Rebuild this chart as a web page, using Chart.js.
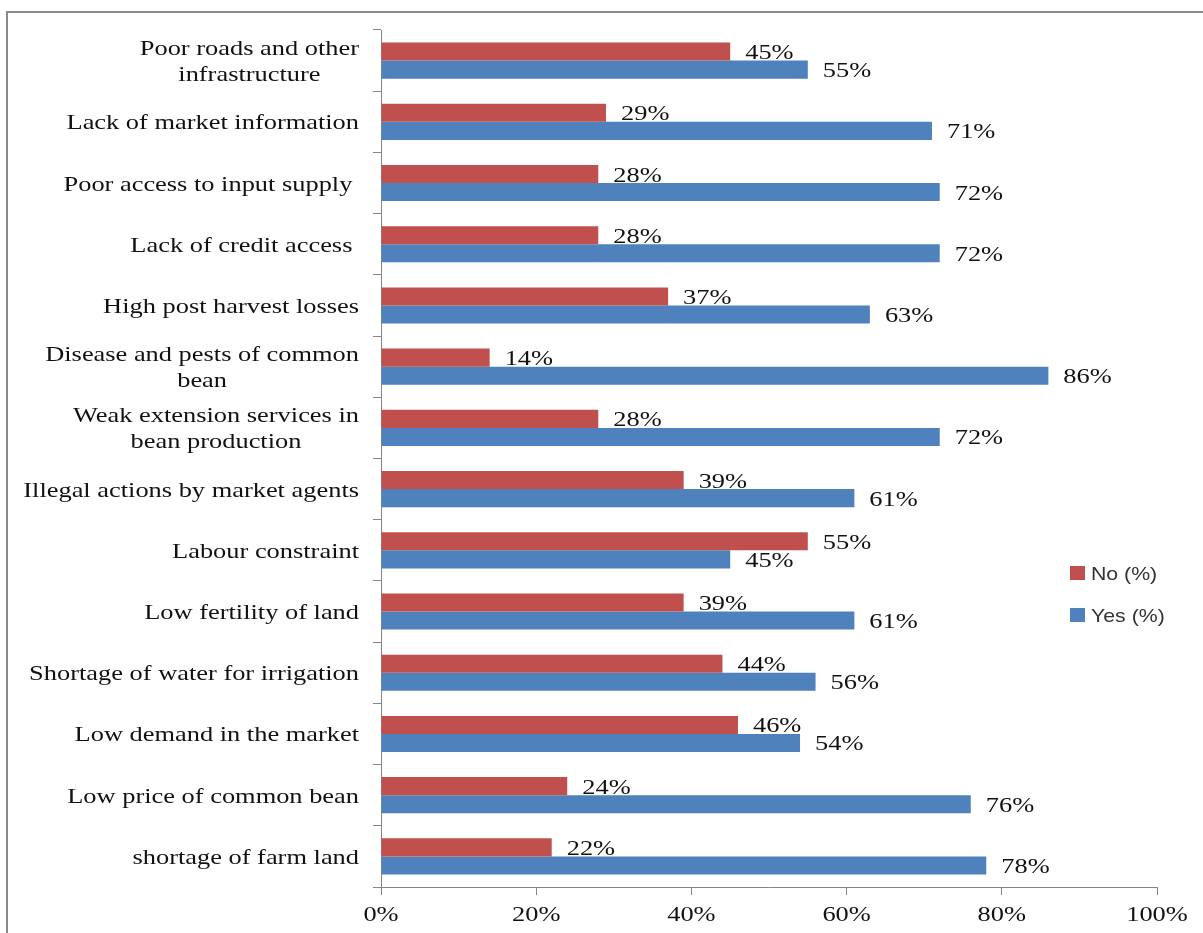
<!DOCTYPE html>
<html>
<head>
<meta charset="utf-8">
<title>Constraints of common bean marketing</title>
<script src="https://cdn.jsdelivr.net/npm/chart.js@4.4.1/dist/chart.umd.min.js"></script>
<style>
  html, body { margin: 0; padding: 0; background: #fff; }
  #wrap { position: relative; width: 1203px; height: 933px; overflow: hidden; }
  #wrap canvas { position: absolute; left: 0; top: 0; }
  #frame {
    position: absolute; left: 6px; top: 11px; right: -10px; bottom: -10px;
    border-left: 2px solid #8a8a8a; border-top: 2px solid #8a8a8a;
    pointer-events: none;
  }
</style>
</head>
<body>
<div id="wrap">
  <canvas id="chart" width="1203" height="933"></canvas>
  <div id="frame"></div>
</div>
<script>
// Constraints, listed top to bottom
const categories = [
  ['Poor roads and other', 'infrastructure'],
  'Lack of market information',
  'Poor access to input supply ',
  'Lack of credit access ',
  'High post harvest losses',
  ['Disease and pests of common', 'bean'],
  ['Weak extension services in', 'bean production'],
  'Illegal actions by market agents',
  'Labour constraint',
  'Low fertility of land',
  'Shortage of water for irrigation',
  'Low demand in the market',
  'Low price of common bean',
  'shortage of farm land'
];

// Share of respondents (%)
const noValues  = [45, 29, 28, 28, 37, 14, 28, 39, 55, 39, 44, 46, 24, 22];
const yesValues = [55, 71, 72, 72, 63, 86, 72, 61, 45, 61, 56, 54, 76, 78];

// Percentage axis ticks
const xTickValues = [0, 20, 40, 60, 80, 100];

const seriesNames = ['No (%)', 'Yes (%)'];
const RED = '#C0504D';
const BLUE = '#4F81BD';
const AXIS = '#868686';
const SERIF = "'Liberation Serif', 'Times New Roman', serif";
const SANS = "'Liberation Sans', Arial, sans-serif";
const STRETCH = 1.2;   // wide Times-style lettering

function drawStretched(ctx, text, x, y, align, sx) {
  ctx.save();
  ctx.translate(x, y);
  ctx.scale(sx, 1);
  ctx.textAlign = align;
  ctx.fillText(text, 0, 0);
  ctx.restore();
}

// Value labels to the right of every bar
const valueLabels = {
  id: 'valueLabels',
  afterDatasetsDraw(chart) {
    const ctx = chart.ctx;
    ctx.save();
    ctx.font = '22px ' + SERIF;
    ctx.fillStyle = '#111';
    ctx.textBaseline = 'alphabetic';
    chart.data.datasets.forEach((ds, di) => {
      const meta = chart.getDatasetMeta(di);
      meta.data.forEach((bar, i) => {
        drawStretched(ctx, ds.data[i] + '%', bar.x + 15, bar.y + 7.5, 'left', STRETCH);
      });
    });
    ctx.restore();
  }
};

// Category names (block right-aligned, wrapped lines centred) and % ticks
const axisText = {
  id: 'axisText',
  afterDraw(chart) {
    const ctx = chart.ctx;
    const ys = chart.scales.y;
    const xs = chart.scales.x;
    ctx.save();
    ctx.font = '22px ' + SERIF;
    ctx.fillStyle = '#111';
    ctx.textBaseline = 'alphabetic';

    const right = ys.right - 22;
    const lineH = 26;
    chart.data.labels.forEach((lab, i) => {
      const lines = Array.isArray(lab) ? lab : [lab];
      const widths = lines.map(l => ctx.measureText(l).width * STRETCH);
      const block = Math.max(...widths);
      const cx = right - block / 2;
      const yc = ys.getPixelForTick(i);
      const first = yc + 7.5 - (lines.length - 1) * lineH / 2;
      lines.forEach((l, k) => {
        if (lines.length === 1) {
          drawStretched(ctx, l, right, first, 'right', STRETCH);
        } else {
          drawStretched(ctx, l, cx, first + k * lineH, 'center', STRETCH);
        }
      });
    });

    xs.ticks.forEach(t => {
      const px = xs.getPixelForValue(t.value);
      drawStretched(ctx, t.value + '%', px, xs.top + 34, 'center', STRETCH);
    });
    ctx.restore();
  }
};

// Legend at the right of the plot
const sideLegend = {
  id: 'sideLegend',
  afterDraw(chart) {
    const ctx = chart.ctx;
    const area = chart.chartArea;
    const x0 = area.right - 87;
    const y0 = 566;
    const gap = 42;
    ctx.save();
    ctx.font = '19px ' + SANS;
    ctx.textBaseline = 'alphabetic';
    chart.data.datasets.forEach((ds, i) => {
      const y = y0 + i * gap;
      ctx.fillStyle = ds.backgroundColor;
      ctx.fillRect(x0, y, 15, 14);
      ctx.fillStyle = '#333';
      drawStretched(ctx, ds.label, x0 + 21, y + 13.5, 'left', 1.12);
    });
    ctx.restore();
  }
};

new Chart(document.getElementById('chart'), {
  type: 'bar',
  data: {
    labels: categories,
    datasets: [
      { label: seriesNames[0], data: noValues, backgroundColor: RED,
        barPercentage: 1, categoryPercentage: 0.59 },
      { label: seriesNames[1], data: yesValues, backgroundColor: BLUE,
        barPercentage: 1, categoryPercentage: 0.59 }
    ]
  },
  options: {
    indexAxis: 'y',
    responsive: false,
    animation: false,
    layout: { padding: { left: 0, right: 46, top: 30, bottom: 0 } },
    plugins: {
      legend: { display: false },
      tooltip: { enabled: false }
    },
    scales: {
      x: {
        min: 0, max: 100,
        afterBuildTicks(scale) { scale.ticks = xTickValues.map(v => ({ value: v })); },
        ticks: { display: false },
        grid: { drawOnChartArea: false, drawTicks: true, tickLength: 8, color: AXIS },
        border: { color: AXIS, width: 1 },
        afterFit(scale) { scale.height = 46; }
      },
      y: {
        ticks: { display: false },
        grid: { offset: true, drawOnChartArea: false, drawTicks: true, tickLength: 8, color: AXIS },
        border: { color: AXIS, width: 1 },
        afterFit(scale) { scale.width = 381; }
      }
    }
  },
  plugins: [valueLabels, axisText, sideLegend]
});
</script>
</body>
</html>
